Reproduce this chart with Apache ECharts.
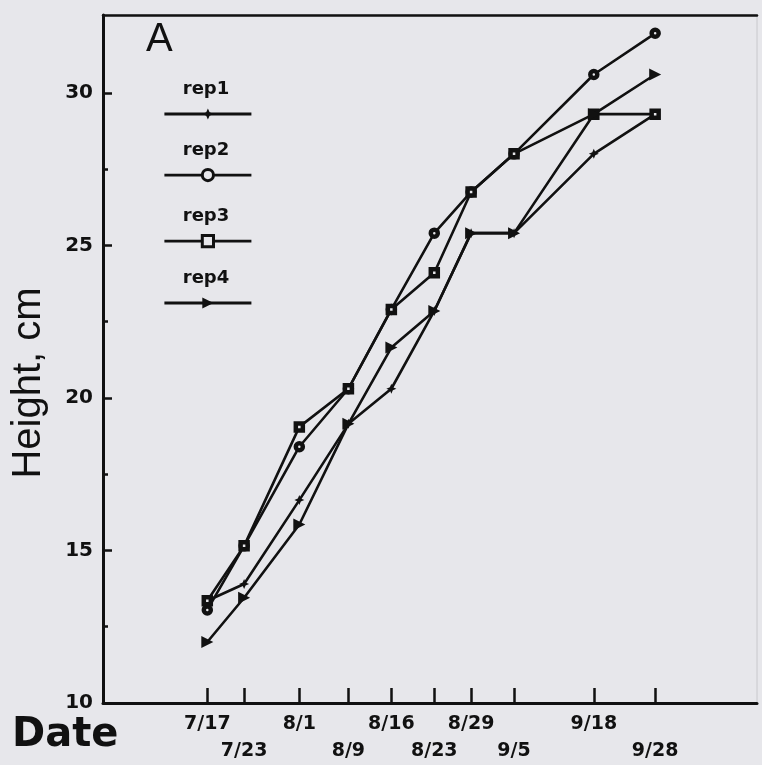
<!DOCTYPE html>
<html><head><meta charset="utf-8">
<script src="https://cdn.jsdelivr.net/npm/echarts@6/dist/echarts.min.js"></script>
<style>html,body{margin:0;padding:0;background:#e7e7eb}#c{width:762px;height:765px}</style>
</head><body><div id="c"></div>
<script>
// Dates and their day numbers counted from 7/1
const dateLabels = ['7/17','7/23','8/1','8/9','8/16','8/23','8/29','9/5','9/18','9/28'];
const dayNumbers = [16, 22, 31, 39, 46, 53, 59, 66, 79, 89];
// Heights (cm)
const rep1 = [13.35, 13.9, 16.65, 19.15, 20.3, 22.85, 25.4, 25.4, 28.0, 29.3];
const rep2 = [13.05, 15.15, 18.4, 20.3, 22.9, 25.4, 26.75, 28.0, 30.6, 31.95];
const rep3 = [13.35, 15.15, 19.05, 20.3, 22.9, 24.1, 26.75, 28.0, 29.3, 29.3];
const rep4 = [12.0, 13.45, 15.85, 19.15, 21.65, 22.85, 25.4, 25.4, 29.3, 30.6];
const seriesNames = ['rep1','rep2','rep3','rep4'];
const yTicks = [10, 15, 20, 25, 30];
const yMinorTicks = [12.5, 17.5, 22.5, 27.5];

const X_MIN = -1, X_MAX = 105.6;
const BG = '#e7e7eb';
const FONT = 'DejaVu Sans';
const chart = echarts.init(document.getElementById('c'), null, {renderer: 'canvas'});

function pts(vals){ return dayNumbers.map((d,i)=>[d, vals[i]]); }
const lineStyle = {color:'#111', width: 2.6};
const symbols = [
  {symbol:'path://M0,-6 L1.8,-1.8 L6,0 L1.8,1.8 L0,6 L-1.8,1.8 L-6,0 L-1.8,-1.8Z', symbolSize:10, itemStyle:{color:'#111'}},
  {symbol:'circle', symbolSize:7, itemStyle:{color:BG, borderColor:'#111', borderWidth:4.5}},
  {symbol:'rect', symbolSize:7, itemStyle:{color:BG, borderColor:'#111', borderWidth:4.5}},
  {symbol:'triangle', symbolSize:12, symbolRotate:-90, itemStyle:{color:'#111'}}
];
const allData = [rep1, rep2, rep3, rep4];
const series = allData.map((v,i)=>Object.assign({
  name: seriesNames[i], type:'line', data: pts(v), lineStyle: lineStyle,
  showAllSymbol: true, animation:false, z: 3 + i
}, symbols[i]));

const legendTops = [107, 168, 234, 296];
const legends = seriesNames.map((n,i)=>({
  data:[n], left:163, top:legendTops[i], itemWidth:87, itemHeight:14, padding:0,
  lineStyle:{width:2.8}, itemStyle:{borderWidth:3},
  formatter: () => '', selectedMode:false, textStyle:{fontSize:1}
}));

const legendTextY = [89, 150, 216, 278];
const graphics = [
  {type:'text', left:146, top:20, style:{text:'A', font:'40px "Liberation Sans"', fill:'#111'}},
  {type:'text', left:12, top:716, style:{text:'Date', font:'bold 40px "DejaVu Sans"', fill:'#111'}},
  {type:'text', x:29, y:383, rotation:Math.PI/2,
   style:{text:'Height, cm', font:'40px "Liberation Sans"', fill:'#111', align:'center', verticalAlign:'middle'}}
].concat(seriesNames.map((n,i)=>({
  type:'text', x:206, y:legendTextY[i],
  style:{text:n, font:'bold 18px "DejaVu Sans"', fill:'#111', align:'center', verticalAlign:'middle'}
})));

// axis start is prepended so every date gets its own tick and label
const xTickValues = [X_MIN].concat(dayNumbers);

chart.setOption({
  backgroundColor: BG,
  animation:false,
  grid:{left:103, right:5, top:15, bottom:58, show:true, borderColor:'#c8c8cc', borderWidth:1},
  legend: legends,
  graphic: graphics,
  xAxis:[{
    type:'value', min:X_MIN, max:X_MAX, position:'bottom',
    axisLine:{show:true, onZero:false, lineStyle:{color:'#111', width:3}},
    axisTick:{show:true, inside:true, length:15, customValues: xTickValues, lineStyle:{color:'#111', width:2.5}},
    axisLabel:{show:true, customValues: xTickValues, margin:8, color:'#111', showMinLabel:true,
      fontFamily:FONT, fontWeight:'bold', fontSize:19, lineHeight:27,
      formatter:(v)=>{ const i = dayNumbers.indexOf(v); if (i < 0) return ''; return i%2===0 ? dateLabels[i] : '\n'+dateLabels[i]; }},
    splitLine:{show:false}
  },{
    type:'value', min:X_MIN, max:X_MAX, position:'top',
    axisLine:{show:true, onZero:false, lineStyle:{color:'#111', width:2.5}},
    axisTick:{show:false}, axisLabel:{show:false}, splitLine:{show:false}
  }],
  yAxis:[{
    type:'value', min:10, max:32.55, position:'left',
    axisLine:{show:true, onZero:false, lineStyle:{color:'#111', width:3}},
    axisTick:{show:true, inside:true, length:9, customValues:yTicks, lineStyle:{color:'#111', width:2.5}},
    axisLabel:{show:true, customValues:yTicks, margin:10, color:'#111',
      fontFamily:FONT, fontWeight:'bold', fontSize:20},
    splitLine:{show:false}
  },{
    type:'value', min:10, max:32.55, position:'left', offset:0,
    axisLine:{show:false, onZero:false},
    axisTick:{show:true, inside:true, length:5, customValues:yMinorTicks, lineStyle:{color:'#111', width:2.5}},
    axisLabel:{show:false}, splitLine:{show:false}
  }],
  series: series
});
</script></body></html>
